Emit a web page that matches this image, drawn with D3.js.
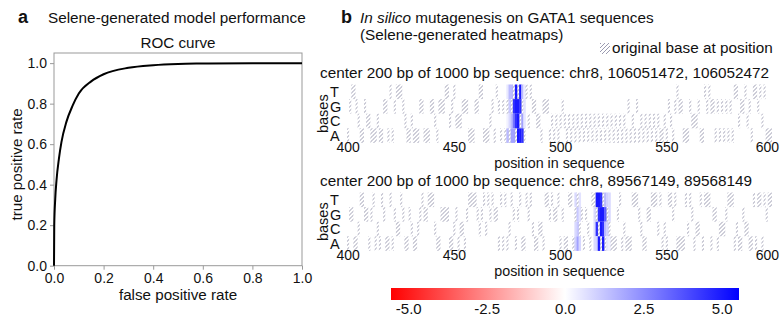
<!DOCTYPE html>
<html><head><meta charset="utf-8">
<script src="https://cdn.jsdelivr.net/npm/d3@7"></script>
<style>
body{margin:0;background:#fff}
text{font-family:"Liberation Sans",Arial,Helvetica,sans-serif;fill:#111}
</style>
</head><body>
<svg id="c" width="781" height="320"></svg>
<script>
// ---------- data ----------
const rocFpr = [0, 0.001, 0.005, 0.01, 0.02, 0.03, 0.05, 0.075, 0.1, 0.15, 0.2, 0.3, 0.4, 0.5, 0.6, 0.8, 1.0];
const rocTpr = [0, 0.2, 0.33, 0.42, 0.53, 0.61, 0.71, 0.79, 0.85, 0.91, 0.945, 0.977, 0.99, 0.996, 0.998, 1.0, 1.0];
const rocTicks = [0, 0.2, 0.4, 0.6, 0.8, 1.0];

const bases = ["T", "G", "C", "A"];
const seqStart = 400, seqEnd = 600;
const heatTicks = [400, 450, 500, 550, 600];

const seq1 = ["AGTTGCAAGC","CAAACAAGGA","TAGTTTGCAA","CAAAGGAAAG","GCAGGGTTCG",
              "TCCCGGGAAA","GGTTAAACGA","TGAGAGAGTA","TCGATCTGGC","CAGGGACACA",
              "CGCACACACA","CACACACACA","CACACACACA","CAGACAGACA","CACACACAAC",
              "AGCAGTGGAA","AGCCCGAATG","TGGAGAGAGA","GATTCGGTCG","ATTGTCTAAA"].join("");
const seq2 = ["AGGAACTTGG","AGTACATGAA","TAGCCTGAAG","CAACGTGGTT","TCAAGGGGAA",
              "CGACCAGTTT","TGCGTCTGTG","GATATACTGA","GTAATGTCAA","CCATTGTGGT",
              "AGAATTAGTC","GAGCATTGCA","TAGCAAAGTA","CAAATTTGCA","AGGTTTCTAC",
              "ATTGTAAAAT","CTGACCTATT","TAGGACCCGT","TTACAAGCCA","ATATTATGTT"].join("");

// [position, T, G, C, A]
const effects1 = [
  [475, 0.5, 0.0, 0.3, 1.5],
  [476, 1.5, 1.2, 0.8, 0.0],
  [477, 1.5, 0.0, 1.5, 2.0],
  [478, 0.0, 4.5, 3.0, 2.0],
  [479, 5.0, 5.0, 4.5, 0.0],
  [480, 0.0, 5.0, 5.0, 5.0],
  [481, 5.0, 4.5, 0.0, 5.0],
  [482, 1.5, 0.0, 2.0, 4.5],
  [483, 0.4, 0.6, 0.5, 0.0]
];
const effects2 = [
  [507, 0.8, 0.0, 0.8, 1.0],
  [508, 0.0, 1.2, 1.2, 2.0],
  [509, 0.6, 0.6, 0.0, 0.9],
  [516, 0.0, 0.8, 0.8, 0.8],
  [517, 5.0, 0.0, 4.5, 1.0],
  [518, 5.0, 4.5, 0.0, 5.0],
  [519, 4.5, 5.0, 5.0, 0.0],
  [520, 0.0, 5.0, 4.5, 5.0],
  [521, 1.5, 3.5, 1.5, 0.0],
  [522, 1.0, 0.0, 1.0, 0.5],
  [523, 0.8, 0.8, 0.0, 0.3]
];
const title1 = "center 200 bp of 1000 bp sequence: chr8, 106051472, 106052472";
const title2 = "center 200 bp of 1000 bp sequence: chr8, 89567149, 89568149";
const colorMax = 5.55;
const cbTicks = [-5, -2.5, 0, 2.5, 5];

// ---------- drawing ----------
const svg = d3.select("#c");
const defs = svg.append("defs");
const hatch = defs.append("pattern").attr("id", "hatch")
  .attr("patternUnits", "userSpaceOnUse").attr("width", 4).attr("height", 4);
hatch.append("path").attr("d", "M-1,1 L1,-1 M0,4 L4,0 M3,5 L5,3")
  .attr("stroke", "#9090a8").attr("stroke-width", 0.9).attr("fill", "none");

const fmt1 = d => d3.format(".1f")(d).replace("\u2212", "-");

// ---- panel a ----
svg.append("text").attr("x", 18).attr("y", 23).attr("font-size", 18).attr("font-weight", "bold").text("a");
svg.append("text").attr("x", 48).attr("y", 23).attr("font-size", 15.3).text("Selene-generated model performance");
svg.append("text").attr("x", 178).attr("y", 48).attr("font-size", 15.2).attr("text-anchor", "middle").text("ROC curve");

const rx = d3.scaleLinear().domain([0, 1]).range([54, 302]);
const ry = d3.scaleLinear().domain([0, 1.05]).range([265.7, 53]);

svg.append("rect").attr("x", rx(0)).attr("y", ry(1.05)).attr("width", rx(1) - rx(0)).attr("height", ry(0) - ry(1.05))
  .attr("fill", "none").attr("stroke", "#999").attr("stroke-width", 1);

const gx = svg.append("g").attr("transform", `translate(0,${ry(0)})`)
  .call(d3.axisBottom(rx).tickValues(rocTicks).tickFormat(fmt1).tickSize(4).tickPadding(3));
const gy = svg.append("g").attr("transform", `translate(${rx(0)},0)`)
  .call(d3.axisLeft(ry).tickValues(rocTicks).tickFormat(fmt1).tickSize(4).tickPadding(3));
[gx, gy].forEach(g => {
  g.select(".domain").remove();
  g.selectAll(".tick line").attr("stroke", "#999");
  g.selectAll(".tick text").attr("font-size", 14).attr("font-family", "Liberation Sans, Arial, sans-serif").attr("fill", "#111");
});

const rocData = rocFpr.map((f, i) => [f, rocTpr[i]]);
svg.append("path").datum(rocData)
  .attr("d", d3.line().x(d => rx(d[0])).y(d => ry(d[1])).curve(d3.curveMonotoneX))
  .attr("fill", "none").attr("stroke", "#000").attr("stroke-width", 2);

svg.append("text").attr("x", 178).attr("y", 300).attr("font-size", 15.2).attr("text-anchor", "middle").text("false positive rate");
svg.append("text").attr("transform", `translate(22,${(ry(0) + ry(1)) / 2}) rotate(-90)`)
  .attr("font-size", 15.2).attr("text-anchor", "middle").text("true positive rate");

// ---- panel b ----
svg.append("text").attr("x", 341).attr("y", 23).attr("font-size", 18).attr("font-weight", "bold").text("b");
const t1 = svg.append("text").attr("x", 360).attr("y", 23).attr("font-size", 15.3);
t1.append("tspan").attr("font-style", "italic").text("In silico");
t1.append("tspan").text(" mutagenesis on GATA1 sequences");
svg.append("text").attr("x", 360).attr("y", 40).attr("font-size", 15.3).text("(Selene-generated heatmaps)");

svg.append("rect").attr("x", 600).attr("y", 43).attr("width", 10).attr("height", 11).attr("fill", "url(#hatch)");
svg.append("text").attr("x", 612).attr("y", 53).attr("font-size", 15.3).text("original base at position");

const color = d3.scaleLinear().domain([-colorMax, 0, colorMax]).range(["#ff0000", "#ffffff", "#0000ff"]);
const hx = d3.scaleLinear().domain([seqStart, seqEnd]).range([347, 772]);
const rowH = 14.6;
const hy = d3.scaleBand().domain(bases).range([0, rowH * 4]);

function drawHeat(seq, effects, title, y0) {
  const g = svg.append("g").attr("transform", `translate(0,${y0})`);
  const eff = new Map(effects.map(e => [e[0], e]));
  const cells = [];
  for (let i = 0; i < seq.length; i++) {
    const pos = seqStart + i;
    bases.forEach((b, bi) => {
      const e = eff.get(pos);
      cells.push({pos, base: b, value: e ? e[bi + 1] : 0, orig: seq[i] === b});
    });
  }
  g.append("g").selectAll("rect").data(cells.filter(d => d.value !== 0)).join("rect")
    .attr("x", d => hx(d.pos)).attr("y", d => hy(d.base))
    .attr("width", d => hx(d.pos + 1) - hx(d.pos) + 0.3).attr("height", hy.bandwidth())
    .attr("fill", d => color(d.value));
  g.append("g").selectAll("rect").data(cells.filter(d => d.orig)).join("rect")
    .attr("x", d => hx(d.pos)).attr("y", d => hy(d.base))
    .attr("width", d => hx(d.pos + 1) - hx(d.pos)).attr("height", hy.bandwidth())
    .attr("fill", "url(#hatch)");

  svg.append("text").attr("x", 320).attr("y", y0 - 7).attr("font-size", 15.3).text(title);
  bases.forEach(b => {
    g.append("text").attr("x", 330).attr("y", hy(b) + hy.bandwidth() / 2).attr("dy", "0.36em")
      .attr("font-size", 14.5).text(b);
  });
  g.append("text").attr("transform", `translate(328,${rowH * 2}) rotate(-90)`)
    .attr("font-size", 14.5).attr("text-anchor", "middle").text("bases");
  const bottom = rowH * 4;
  heatTicks.forEach(t => {
    const last = t >= seqEnd;
    g.append("text").attr("x", last ? 779 : hx(t + 0.5)).attr("y", bottom + 9.5)
      .attr("font-size", 14).attr("text-anchor", last ? "end" : "middle").text(t);
  });
  g.append("text").attr("x", (hx(seqStart) + hx(seqEnd)) / 2).attr("y", bottom + 25)
    .attr("font-size", 14.3).attr("text-anchor", "middle").text("position in sequence");
}
drawHeat(seq1, effects1, title1, 84.5);
drawHeat(seq2, effects2, title2, 192.5);

// ---- colorbar ----
const cbx = d3.scaleLinear().domain([-colorMax, colorMax]).range([391, 739]);
const grad = defs.append("linearGradient").attr("id", "cbgrad");
d3.range(0, 1.0001, 0.1).forEach(t => {
  grad.append("stop").attr("offset", t).attr("stop-color", color(-colorMax + 2 * colorMax * t));
});
svg.append("rect").attr("x", cbx(-colorMax)).attr("y", 288).attr("width", cbx(colorMax) - cbx(-colorMax)).attr("height", 12)
  .attr("fill", "url(#cbgrad)");
const gcb = svg.append("g").attr("transform", "translate(0,300)")
  .call(d3.axisBottom(cbx).tickValues(cbTicks).tickFormat(fmt1).tickSize(0).tickPadding(3.5));
gcb.select(".domain").remove();
gcb.selectAll(".tick text").attr("font-size", 15).attr("font-family", "Liberation Sans, Arial, sans-serif").attr("fill", "#111");
</script>
</body></html>
